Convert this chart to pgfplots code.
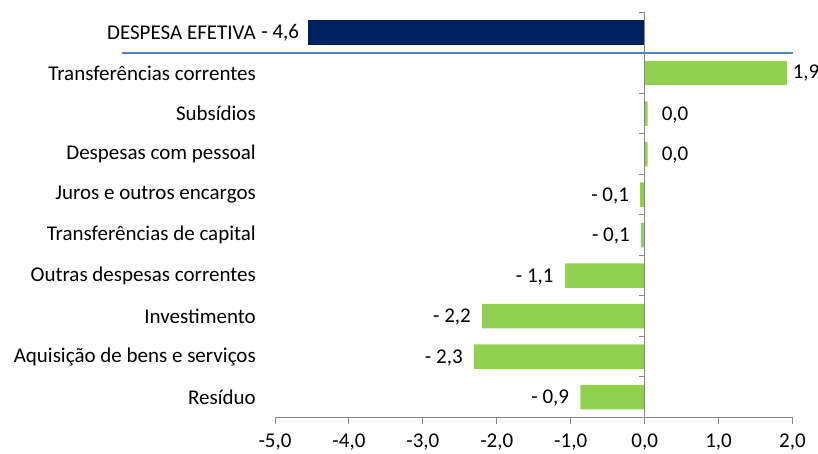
\documentclass[border=0pt]{standalone}
\usepackage{fontspec}
\setmainfont{Carlito}
\usepackage{pgfplots}
\pgfplotsset{compat=1.18}
\definecolor{navy}{HTML}{002060}
\definecolor{barg}{HTML}{92D050}
\definecolor{axgray}{HTML}{868686}
\definecolor{sepblue}{HTML}{4F81BD}
\begin{document}
\begin{tikzpicture}[font=\fontsize{21}{25}\selectfont]
\begin{axis}[
  at={(275pt,35.5pt)}, anchor=south west,
  scale only axis, width=517.5pt, height=405.2pt,
  xbar, bar width=24.5pt, bar shift=0pt,
  xmin=-5, xmax=2, ymin=-0.5, ymax=9.5, y dir=reverse,
  axis x line*=bottom, axis y line*=left,
  axis line style={axgray, line width=1.2pt},
  y axis line style={draw=none},
  tick align=outside, major tick length=6pt,
  xtick={-5,...,2},
  xticklabels={{-5,0},{-4,0},{-3,0},{-2,0},{-1,0},{0,0},{1,0},{2,0}},
  xtick style={axgray, line width=1pt},
  ytick={0,...,9},
  ytick style={draw=none},
  yticklabels={DESPESA EFETIVA, Transferências correntes, Subsídios, Despesas com pessoal, Juros e outros encargos, Transferências de capital, Outras despesas correntes, Investimento, Aquisição de bens e serviços\ , Resíduo},
  yticklabel style={inner sep=0pt, anchor=east, xshift=-13pt},
  xticklabel style={inner sep=0pt, anchor=north, yshift=-10pt},
  clip=false,
  point meta=explicit symbolic,
  nodes near coords,
]
\addplot[fill=navy, draw=none,
  nodes near coords style={anchor=east, inner sep=0pt, xshift=-9pt}]
  coordinates {(-4.55,0) [- 4,6]};
\addplot[fill=barg, draw=none,
  nodes near coords style={anchor=west, inner sep=0pt, xshift=6pt}]
  coordinates {(1.92,1) [1,9]};
\addplot[fill=barg, draw=none,
  nodes near coords style={anchor=west, inner sep=0pt, xshift=14pt, yshift=-1pt}]
  coordinates {(0.04,2) [0,0] (0.04,3) [0,0]};
\addplot[fill=barg, draw=none,
  nodes near coords style={anchor=east, inner sep=0pt, xshift=-11pt, yshift=-1pt}]
  coordinates {(-0.06,4) [- 0,1] (-0.05,5) [- 0,1] (-1.08,6) [- 1,1]
               (-2.2,7) [- 2,2] (-2.31,8) [- 2,3] (-0.87,9) [- 0,9]};
\draw[axgray, line width=1.2pt] (axis cs:0,-0.5) -- (axis cs:0,9.5);
\pgfplotsinvokeforeach{-0.5,0.5,1.5,2.5,3.5,4.5,5.5,6.5,7.5,8.5,9.5}{
  \draw[axgray, line width=1pt] (axis cs:0,#1) -- ++(-6pt,0pt);
}
\draw[sepblue, line width=1.5pt] ([xshift=-153pt]axis cs:-5,0.5) -- (axis cs:2,0.5);
\end{axis}
\pgfresetboundingbox
\useasboundingbox (0,0) rectangle (818pt,453pt);
\end{tikzpicture}
\end{document}
